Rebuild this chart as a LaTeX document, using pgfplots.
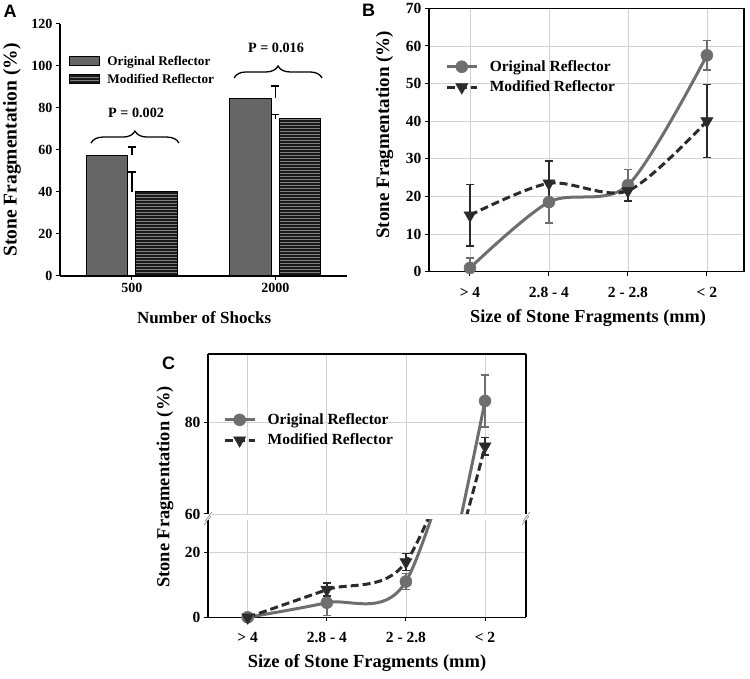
\documentclass[border=0pt]{standalone}
\usepackage{fontspec}
\setmainfont{Liberation Serif}
\setsansfont{Liberation Sans}
\usepackage{pgfplots}
\pgfplotsset{compat=1.18}
\usetikzlibrary{decorations.pathreplacing,patterns}
\newcommand{\fs}[1]{\fontsize{#1}{#1}\selectfont\bfseries}
\definecolor{origbar}{HTML}{666666}
\definecolor{modbar}{HTML}{1A1A1A}
\definecolor{origline}{HTML}{6E6E6E}
\definecolor{modline}{HTML}{2B2B2B}
\begin{document}
\begin{tikzpicture}
\path[use as bounding box] (0,0) rectangle (750pt,678pt);
\pgfplotsset{
  every axis/.append style={scale only axis, /pgf/number format/assume math mode=true},
  origstyle/.style={smooth, color=origline, line width=3pt, mark=*, mark size=6pt,
     mark options={solid, fill=origline, draw=origline, line width=0.5pt}},
  modstyle/.style={smooth, color=modline, line width=3pt, dash pattern=on 8pt off 4pt,
     mark=triangle*, mark size=7pt, mark options={solid, rotate=180, fill=modline, draw=modline, line width=0.5pt}},
  origerr/.style={error bars/.cd, y dir=both, y explicit,
     error bar style={line width=1.6pt, color=origline, solid},
     error mark options={rotate=90, mark size=4pt, line width=1.6pt, color=origline, solid}},
  moderr/.style={error bars/.cd, y dir=both, y explicit,
     error bar style={line width=1.6pt, color=modline, solid},
     error mark options={rotate=90, mark size=4pt, line width=1.6pt, color=modline, solid}},
  linelegend/.style={legend image code/.code={\draw[##1,mark repeat=2,mark phase=2] plot coordinates {(0pt,0pt) (15pt,0pt) (30pt,0pt)};
     \path[draw=none, fill=none] (0pt,0pt) -- (41pt,0pt);}},
}

% ---------------- Panel A ----------------
\begin{axis}[
  at={(60pt,402pt)}, anchor=south west, width=287pt, height=252pt,
  xmin=0, xmax=2, ymin=0, ymax=120,
  ytick={0,20,...,120}, xtick={0.5,1.5}, xticklabels={500,2000},
  axis x line=bottom, axis y line=left, axis line style={-, line width=1.3pt},
  tick align=outside, major tick length=4pt, tick style={line width=1pt, black},
  ticklabel style={font=\fs{14}},
  xlabel={Number of Shocks}, ylabel={Stone Fragmentation (\%)},
  xlabel style={font=\fs{17}, at={(axis description cs:0.502,-0.167)}, anchor=center},
  ylabel style={font=\fs{19.5}, at={(axis description cs:-0.167,0.5)}, anchor=center},
  legend style={at={(0.032,0.882)}, anchor=north west, draw=none, fill=none,
     font=\fs{13.2}, row sep=3pt, inner sep=0pt},
  legend image code/.code={\draw[#1] (0pt,-4.5pt) rectangle (30pt,4.5pt);
     \node[inner sep=0pt, minimum size=0pt, draw=none, fill=none] at (35pt,0pt) {};},
  legend cell align=left,
  clip=false,
]
\addplot[ybar, bar width=0.286, bar shift=-0.1725, fill=origbar, draw=black, line width=1pt,
  error bars/.cd, y dir=plus, y explicit,
  error bar style={line width=1.5pt, black},
  error mark options={rotate=90, mark size=4pt, line width=1.5pt, black}]
  coordinates {(0.5,57.5) +- (0,4) (1.5,84.7) +- (0,5.8)};
\addlegendentry{Original Reflector}
\addplot[ybar, bar width=0.286, bar shift=0.1725, fill=modbar, draw=black, line width=1pt,
  postaction={pattern=horizontal lines, pattern color=gray},
  error bars/.cd, y dir=plus, y explicit,
  error bar style={line width=1.5pt, black},
  error mark options={rotate=90, mark size=4pt, line width=1.5pt, black}]
  coordinates {(0.5,40) +- (0,9.5) (1.5,74.8) +- (0,2)};
\addlegendentry{Modified Reflector}
\draw[decorate, decoration={brace, amplitude=12pt}, line width=1.3pt]
  (axis cs:0.216,63.3) -- (axis cs:0.829,63.3);
\draw[decorate, decoration={brace, amplitude=12pt}, line width=1.3pt]
  (axis cs:1.213,94.3) -- (axis cs:1.826,94.3);
\node[font=\fs{14.2}] at (axis cs:0.53,77.6) {P = 0.002};
\node[font=\fs{14.2}] at (axis cs:1.505,108.6) {P = 0.016};
\end{axis}

% ---------------- Panel B ----------------
\begin{axis}[
  at={(429pt,406.3pt)}, anchor=south west, width=315pt, height=263.4pt,
  xmin=0.481, xmax=4.47, ymin=0, ymax=70,
  ytick={0,10,...,70}, xtick={1,2,3,4},
  xticklabels={{> 4},{2.8 - 4},{2 - 2.8},{< 2}},
  grid=major, grid style={line width=0.7pt, color=gray!35},
  axis line style={line width=1.5pt},
  tick pos=left, tick align=outside, major tick length=4pt, tick style={line width=1pt, black},
  ticklabel style={font=\fs{15.5}},
  xticklabel style={yshift=-8pt},
  xlabel={Size of Stone Fragments (mm)}, ylabel={Stone Fragmentation (\%)},
  xlabel style={font=\fs{18.3}, at={(axis description cs:0.505,-0.175)}, anchor=center},
  ylabel style={font=\fs{19}, at={(axis description cs:-0.141,0.52)}, anchor=center},
  legend style={at={(0.051,0.81)}, anchor=north west, draw=none, fill=none,
     font=\fs{15.5}, row sep=4pt, inner sep=0pt},
  linelegend, legend cell align=left,
]
\addplot[origstyle, origerr] coordinates {(1,1) +- (0,2.7) (2,18.5) +- (0,5.5) (3,23) +- (0,4.2) (4,57.5) +- (0,3.9)};
\addlegendentry{Original Reflector}
\addplot[modstyle, moderr] coordinates {(1,15) +- (0,8.2) (2,23.5) +- (0,5.9) (3,21.5) +- (0,2.7) (4,40) +- (0,9.7)};
\addlegendentry{Modified Reflector}
\end{axis}

% ---------------- Panel C (lower part) ----------------
\begin{axis}[
  at={(208pt,60.7pt)}, anchor=south west, width=318pt, height=97.5pt,
  xmin=0.498, xmax=4.518, ymin=0, ymax=30,
  ytick={0,20}, xtick={1,2,3,4},
  xticklabels={{> 4},{2.8 - 4},{2 - 2.8},{< 2}},
  axis x line=bottom, axis y line=box, axis line style={-, line width=1.5pt},
  ytick pos=left,
  grid=major, grid style={line width=0.7pt, color=gray!35},
  tick align=outside, major tick length=4pt, tick style={line width=1pt, black},
  ticklabel style={font=\fs{15.5}},
  xticklabel style={yshift=-7pt},
  xlabel={Size of Stone Fragments (mm)}, ylabel={Stone Fragmentation (\%)},
  xlabel style={font=\fs{18.5}, at={(axis description cs:0.5,-0.47)}, anchor=center},
  ylabel style={font=\fs{18.4}, at={(axis description cs:-0.135,1.336)}, anchor=center},
]
\addplot[origstyle, no markers, forget plot] coordinates {(1,0) (2,4.5) (3,11) (4,84.7)};
\addplot[modstyle, no markers, forget plot] coordinates {(1,0) (2,8.5) (3,17) (4,74.8)};
\addplot[origstyle, only marks, origerr] coordinates {(1,0) +- (0,0.4) (2,4.5) +- (0,4) (3,11) +- (0,2.5)};
\addplot[modstyle, only marks, moderr] coordinates {(1,0) +- (0,0.4) (2,8.5) +- (0,2) (3,17) +- (0,2.6)};
\end{axis}

% ---------------- Panel C (upper part) ----------------
\begin{axis}[
  at={(208pt,164pt)}, anchor=south west, width=318pt, height=160.2pt,
  xmin=0.498, xmax=4.518, ymin=60, ymax=95,
  ytick={60,80}, xtick={1,2,3,4}, xticklabels={},
  axis x line=top, axis y line=box, axis line style={-, line width=1.5pt},
  ytick pos=left, xtick style={draw=none},
  grid=major, grid style={line width=0.7pt, color=gray!35},
  tick align=outside, major tick length=4pt, ytick style={line width=1pt, black},
  ticklabel style={font=\fs{15.5}},
  legend style={at={(0.047,0.64)}, anchor=north west, draw=none, fill=none,
     font=\fs{15.5}, row sep=4pt, inner sep=0pt},
  linelegend, legend cell align=left,
]
\addplot[origstyle, no markers, forget plot] coordinates {(1,0) (2,4.5) (3,11) (4,84.7)};
\addplot[modstyle, no markers, forget plot] coordinates {(1,0) (2,8.5) (3,17) (4,74.8)};
\addplot[origstyle, only marks, forget plot, origerr] coordinates {(4,84.7) +- (0,5.7)};
\addplot[modstyle, only marks, forget plot, moderr] coordinates {(4,74.8) +- (0,1.9)};
\addlegendimage{origstyle}
\addlegendentry{Original Reflector}
\addlegendimage{modstyle}
\addlegendentry{Modified Reflector}
\end{axis}

% break marks
\fill[white] (204pt,158.2pt) rectangle (212pt,164pt);
\fill[white] (521pt,158.2pt) rectangle (529pt,164pt);
\draw[gray, line width=0.6pt] (204pt,153pt) -- (211pt,162pt) (205pt,157pt) -- (212pt,166pt);
\draw[gray, line width=0.6pt] (522pt,153pt) -- (529pt,162pt) (523pt,157pt) -- (530pt,166pt);

% panel letters
\node[font=\sffamily\bfseries\fontsize{18}{18}\selectfont] at (10pt,666.5pt) {A};
\node[font=\sffamily\bfseries\fontsize{18}{18}\selectfont] at (368.5pt,668pt) {B};
\node[font=\sffamily\bfseries\fontsize{18}{18}\selectfont] at (168.5pt,314.5pt) {C};
\end{tikzpicture}
\end{document}
